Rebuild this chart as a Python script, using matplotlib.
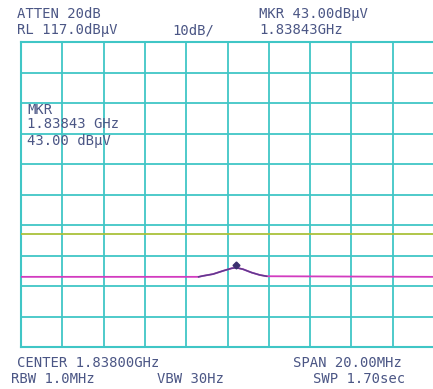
import numpy as np
import matplotlib.pyplot as plt

# analyzer settings
CENTER_GHZ = 1.838
SPAN_MHZ = 20.0
REF_LEVEL = 117.0
DB_PER_DIV = 10.0
MKR_FREQ_GHZ = 1.83843
MKR_LEVEL = 43.00
LIMIT_LEVEL = 54.0

# trace, offset from center in MHz and level in dBuV
trace_mhz = [-10.0, -1.4, -1.2, -0.7, -0.2, 0.2, 0.43, 0.75, 1.17, 1.57, 1.9, 10.0]
trace_db = [40.0, 40.0, 40.3, 40.9, 42.0, 42.8, 43.0, 42.5, 41.4, 40.6, 40.2, 40.0]

header_left = ["ATTEN 20dB", "RL 117.0dB\u03bcV"]
header_mid = "10dB/"
header_right = ["MKR 43.00dB\u03bcV", "1.83843GHz"]
mkr_box = ["MKR", "1.83843 GHz", "43.00 dB\u03bcV"]
footer = [("CENTER 1.83800GHz", "SPAN 20.00MHz"),
          ("RBW 1.0MHz", "VBW 30Hz", "SWP 1.70sec")]

W, H = 433, 389
TXT = '#4b5685'
GRID = '#40c6c6'
FONT = dict(family='DejaVu Sans Mono', fontsize=10, color=TXT, va='center')


def fx(px):
    return px / W


def fy(py):
    return 1 - py / H


fig = plt.figure(figsize=(W / 100, H / 100), dpi=100)
fig.patch.set_facecolor('white')
ax = fig.add_axes([fx(21), fy(347), 413 / W, 305 / H])

half = SPAN_MHZ / 2
bottom = REF_LEVEL - 10 * DB_PER_DIV
ax.set_xlim(-half, half)
ax.set_ylim(bottom, REF_LEVEL)
ax.set_xticks(np.linspace(-half, half, 11))
ax.set_yticks(np.linspace(bottom, REF_LEVEL, 11))
ax.grid(True, color=GRID, lw=1.3)
ax.tick_params(length=0, labelbottom=False, labelleft=False)
for s in ax.spines.values():
    s.set_color(GRID)
    s.set_linewidth(1.5)

ax.axhline(LIMIT_LEVEL, color='#a9c23c', lw=1.3, zorder=3)
ax.plot(trace_mhz, trace_db, color='#d23cc0', lw=1.3, zorder=4)
ax.plot(trace_mhz[1:-1], trace_db[1:-1], color='#5b3d8e', lw=1.1, zorder=5)
mkr_off = (MKR_FREQ_GHZ - CENTER_GHZ) * 1000
ax.plot([mkr_off], [MKR_LEVEL + 0.8], marker='D', ms=3.5, color='#3b2f6e', zorder=6)

# screen annotations
fig.text(fx(17), fy(14), header_left[0], **FONT)
fig.text(fx(17), fy(30), header_left[1], **FONT)
fig.text(fx(172), fy(30), header_mid, **FONT)
fig.text(fx(259), fy(14), header_right[0], **FONT)
fig.text(fx(259), fy(30), header_right[1], **FONT)

for txt, py in zip(mkr_box, [110, 124, 141]):
    fig.text(fx(27), fy(py), txt, **FONT)

fig.text(fx(17), fy(363), footer[0][0], **FONT)
fig.text(fx(293), fy(363), footer[0][1], **FONT)
fig.text(fx(11), fy(379), footer[1][0], **FONT)
fig.text(fx(157), fy(379), footer[1][1], **FONT)
fig.text(fx(313), fy(379), footer[1][2], **FONT)

fig.savefig('out.png', dpi=100)
